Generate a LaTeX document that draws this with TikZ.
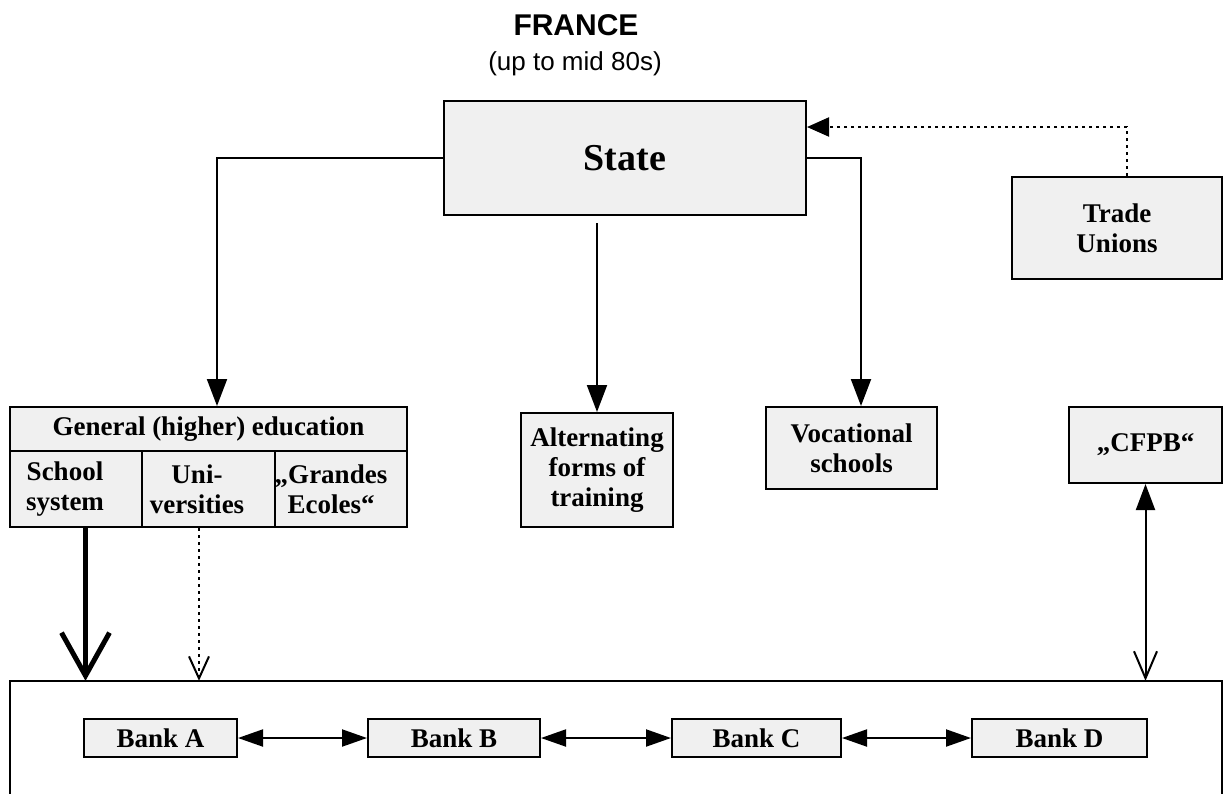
\documentclass[tikz,border=0pt]{standalone}
\usepackage{fontspec}
\setmainfont{Liberation Serif}
\newfontfamily\headfont{Liberation Sans}
\usetikzlibrary{arrows.meta}
\definecolor{boxgray}{RGB}{240,240,240}

\begin{document}
\begin{tikzpicture}[x=1pt,y=-1pt,
  box/.style={draw,line width=2pt,fill=boxgray,inner sep=0pt,align=center,
    font=\fontsize{27}{30}\selectfont\bfseries},
  celltext/.style={inner sep=0pt,align=center,font=\fontsize{27}{30}\selectfont\bfseries},
  link/.style={line width=2pt,-{Triangle[length=27pt,width=20pt]}},
  dotlink/.style={line width=2pt,dash pattern=on 3pt off 4pt},
  twoway/.style={line width=2pt,{Triangle[length=25pt,width=17pt]}-{Triangle[length=25pt,width=17pt]}}]
\useasboundingbox (0,0) rectangle (1231,793);
\pgfmathsetmacro{\bankY}{738}
\pgfmathsetmacro{\cellY}{489}
% title
\node[anchor=base,font=\headfont\bfseries\fontsize{30}{34}\selectfont] (title) at (576,35) {FRANCE};
\node[anchor=base,font=\headfont\fontsize{26}{30}\selectfont] (subtitle) at (575,70) {(up to mid 80s)};
% top row
\node[box,minimum width=362pt,minimum height=114pt,font=\fontsize{38}{40}\selectfont\bfseries] (state) at (625,158) {State};
\node[box,minimum width=210pt,minimum height=102pt] (unions) at (1117,228) {Trade\\Unions};
% training boxes
\node[box,minimum width=397pt,minimum height=44pt] (general) at (208.5,429) {General (higher) education};
\node[box,minimum width=132pt,minimum height=76pt] (school) at (76,\cellY) {};
\node[box,minimum width=133pt,minimum height=76pt] (uni) at (208.5,\cellY) {};
\node[box,minimum width=132pt,minimum height=76pt] (grandes) at (341,\cellY) {};
\node[celltext] (schooltext) at (65,\cellY) {School\\system};
\node[celltext] (unitext) at (197,\cellY) {Uni-\\versities};
\node[celltext] (grandestext) at (331,\cellY) {„Grandes\\Ecoles“};
\node[box,minimum width=152pt,minimum height=114pt] (alt) at (597,470) {Alternating\\forms of\\training};
\node[box,minimum width=171pt,minimum height=82pt] (voc) at (851.5,448) {Vocational\\schools};
\node[box,minimum width=153pt,minimum height=76pt] (cfpb) at (1145.5,445) {„CFPB“};
% banks
\node[minimum width=1212pt,minimum height=124pt] (banks) at (616,743) {};
\draw[line width=2pt] (banks.south west) |- (banks.north east) -- (banks.south east);
\node[box,minimum width=153pt,minimum height=38pt] (bankA) at (160.5,\bankY) {Bank A};
\node[box,minimum width=172pt,minimum height=38pt] (bankB) at (454,\bankY) {Bank B};
\node[box,minimum width=169pt,minimum height=38pt] (bankC) at (756.5,\bankY) {Bank C};
\node[box,minimum width=175pt,minimum height=38pt] (bankD) at (1059.5,\bankY) {Bank D};
% connectors
\draw[link] (state.west) -| ([xshift=8.5pt]general.north);
\draw[link,shorten <=7pt] (state.south -| alt.north) -- (alt.north);
\draw[link] (state.east) -| ([xshift=9.5pt]voc.north);
\draw[dotlink,-{Triangle[length=22pt,width=19pt]}] ([xshift=10pt]unions.north) |- ([yshift=31pt]state.east);
\draw[line width=5pt,-{Straight Barb[length=43pt,width=48pt]}] ([xshift=9.5pt]school.south) -- ([xshift=9.5pt]school.south |- banks.north);
\draw[dotlink,-{Straight Barb[length=22pt,width=20pt]}] ([xshift=-9.5pt]uni.south) -- ([xshift=-9.5pt]uni.south |- banks.north);
\draw[line width=2pt,{Triangle[length=26pt,width=19pt]}-{Straight Barb[length=27pt,width=23pt]}] (cfpb.south) -- (cfpb.south |- banks.north);
\draw[twoway] (bankA) -- (bankB);
\draw[twoway] (bankB) -- (bankC);
\draw[twoway] (bankC) -- (bankD);
\end{tikzpicture}
\end{document}
